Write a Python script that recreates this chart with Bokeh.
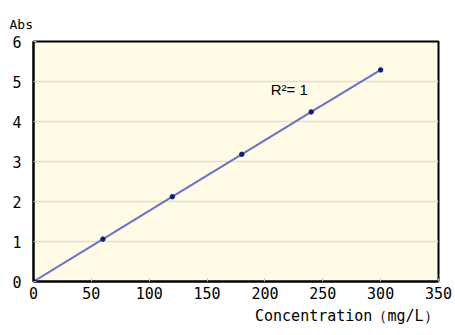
from bokeh.plotting import figure
from bokeh.models import Label, Range1d, FixedTicker, Title
from bokeh.embed import file_html
from bokeh.resources import INLINE

conc = [0, 60, 120, 180, 240, 300]
absorb = [0, 1.06, 2.12, 3.18, 4.24, 5.29]
x_ticks = [0, 50, 100, 150, 200, 250, 300, 350]
y_ticks = [0, 1, 2, 3, 4, 5, 6]

FONT = "DejaVu Sans Mono"

p = figure(width=453, height=333, output_backend="svg", toolbar_location=None,
           x_range=Range1d(0, 350), y_range=Range1d(0, 6),
           min_border_left=33, min_border_right=15, min_border_top=41, min_border_bottom=52)
p.background_fill_color = "#FFFBE6"
p.border_fill_color = "white"
p.outline_line_color = "black"
p.outline_line_width = 2

p.title.text = "Abs"
p.title.align = "left"
p.title.offset = -24
p.title.standoff = 20
p.title.text_font = FONT
p.title.text_font_size = "13px"
p.title.text_font_style = "normal"
p.title.text_color = "black"

p.line(conc, absorb, line_color="#6673C6", line_width=2)
p.scatter(conc, absorb, size=4.5, fill_color="#101E80", line_color="#101E80")

p.xaxis.ticker = FixedTicker(ticks=x_ticks)
p.yaxis.ticker = FixedTicker(ticks=y_ticks)
for ax in (p.xaxis[0], p.yaxis[0]):
    ax.axis_line_color = "black"
    ax.axis_line_width = 2
    ax.major_tick_out = 0
    ax.major_tick_in = 3
    ax.major_tick_line_color = "#BBBBBB"
    ax.minor_tick_line_color = None
    ax.major_label_text_font = FONT
    ax.major_label_text_font_size = "15px"
    ax.major_label_text_color = "black"
p.xaxis.major_label_standoff = 5
p.yaxis.major_label_standoff = 12

p.add_layout(Title(text="Concentration（mg/L）", align="right", standoff=6,
                   text_font=FONT, text_font_size="15px", text_font_style="normal",
                   text_color="black"), "below")

p.xgrid.grid_line_color = None
p.ygrid.grid_line_color = "#E3DFCB"
p.ygrid.grid_line_width = 1.5

p.add_layout(Label(x=205, y=4.6, text="R²= 1", text_font="Liberation Sans",
                   text_font_size="15px", text_color="black"))

open("out.html", "w").write(file_html(p, INLINE))
